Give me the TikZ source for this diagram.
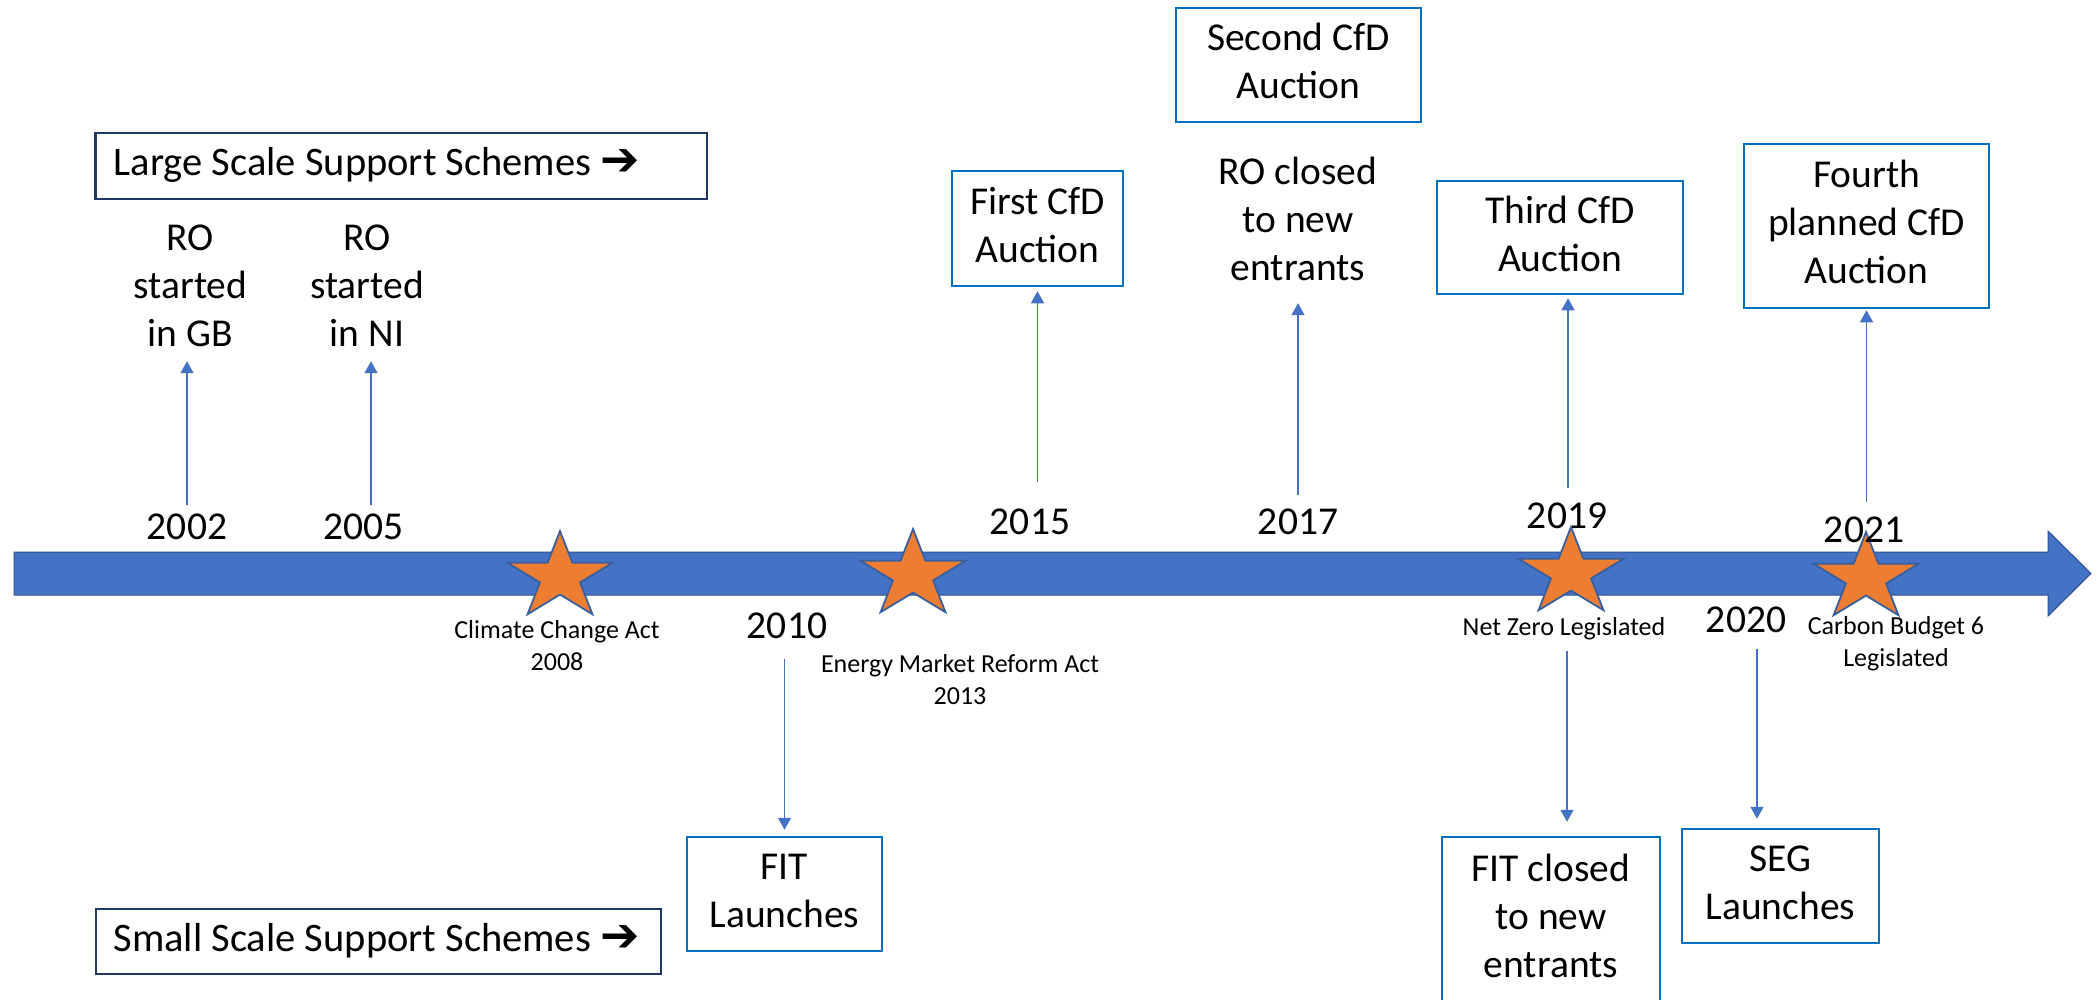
\documentclass[tikz,border=0pt]{standalone}
\usepackage{fontspec}
\setmainfont{Carlito}
\newfontfamily\arrowfont{DejaVu Sans}
\usetikzlibrary{arrows.meta}
\definecolor{mainblue}{HTML}{4472C4}
\definecolor{mainborder}{HTML}{2F528F}
\definecolor{starorange}{HTML}{ED7D31}
\definecolor{starborder}{HTML}{3A5F9E}
\definecolor{boxblue}{HTML}{0070C0}
\definecolor{navy}{HTML}{1F3864}
\definecolor{arrblue}{HTML}{4472C4}
\tikzset{
  big/.style={font=\fontsize{39.5}{48}\selectfont},
  headtxt/.style={font=\fontsize{40.5}{48}\selectfont},
  smalltxt/.style={font=\fontsize{26}{32}\selectfont},
  txt/.style={inner sep=0pt, align=center},
  cbox/.style={draw=boxblue, line width=2.5pt, align=center, inner sep=0pt, big},
  nbox/.style={draw=navy, line width=2.5pt, inner ysep=0pt, headtxt},
  conn/.style={draw=arrblue, line width=1.3pt, -{Triangle[width=13pt,length=12pt]}},
  starsty/.style={fill=starorange, draw=starborder, line width=1.8pt, line join=miter},
}
\newcommand{\ostar}[2]{%
  \begin{scope}[shift={(#1,#2)},xscale=1.2,yscale=-1]
    \draw[starsty] (90:46) -- (126:17.6) -- (162:46) -- (198:17.6) -- (234:46)
      -- (270:17.6) -- (306:46) -- (342:17.6) -- (18:46) -- (54:17.6) -- cycle;
  \end{scope}}
\newcommand{\bigarrow}{{\arrowfont\fontsize{47}{48}\selectfont ➔}}
\begin{document}
\begin{tikzpicture}[x=1pt,y=-1pt]
\useasboundingbox (0,0) rectangle (2098,999);
\fill[white] (0,0) rectangle (2098,999);

% main timeline arrow
\draw[fill=mainblue, draw=mainborder, line width=1pt, line join=miter]
  (14,552) -- (2048,552) -- (2048,531) -- (2091,573.5) -- (2048,616)
  -- (2048,595) -- (14,595) -- cycle;

% stars
\ostar{560}{577}
\ostar{913}{575}
\ostar{1571}{573}
\ostar{1866}{578}

% header boxes
\node[nbox, inner xsep=18.5pt, minimum height=66pt] (lss) at (401,166)
  {\makebox[574.5pt][l]{\strut Large Scale Support Schemes \bigarrow}};
\node[nbox, inner xsep=17.5pt, minimum height=65pt] (sss) at (378.5,941.5)
  {\makebox[530pt][l]{\strut Small Scale Support Schemes \bigarrow}};

% event boxes
\node[cbox, minimum width=245pt, minimum height=114pt] (sc2) at (1298.5,65) {\strut Second CfD\\\strut Auction};
\node[cbox, minimum width=171pt, minimum height=115pt] (fc1) at (1037.5,228.5) {\strut First CfD\\\strut Auction};
\node[cbox, minimum width=246pt, minimum height=113pt] (fc3) at (1560,237.5) {\strut Third CfD\\\strut Auction};
\node[cbox, minimum width=245pt, minimum height=164pt] (fc4) at (1866.5,226) {\strut Fourth\\\strut planned CfD\\\strut Auction};
\node[cbox, minimum width=195pt, minimum height=114pt] (fit1) at (784.5,894) {\strut FIT\\\strut Launches};
\node[cbox, minimum width=218pt, minimum height=166pt] (fit2) at (1551,920) {\strut FIT closed\\\strut to new\\\strut entrants};
\node[cbox, minimum width=197pt, minimum height=114pt] (seg) at (1780.5,886) {\strut SEG\\\strut Launches};

% free text events
\node[txt, big] (ro1) at (190.5,289) {\strut RO\\\strut started\\\strut in GB};
\node[txt, big] (ro2) at (367,289) {\strut RO\\\strut started\\\strut in NI};
\node[txt, big] (roc) at (1298,222.4) {\strut RO closed\\\strut to new\\\strut entrants};

% years
\node[txt, big] (y2002) at (187,529.4) {\strut 2002};
\node[txt, big] (y2005) at (363.5,529.4) {\strut 2005};
\node[txt, big] (y2010) at (787,628.4) {\strut 2010};
\node[txt, big] (y2015) at (1030,524.4) {\strut 2015};
\node[txt, big] (y2017) at (1298,524.4) {\strut 2017};
\node[txt, big] (y2019) at (1567,518.4) {\strut 2019};
\node[txt, big] (y2020) at (1746,622.4) {\strut 2020};
\node[txt, big] (y2021) at (1864,532.4) {\strut 2021};

% star labels
\node[txt, smalltxt] (cca) at (557,647.6) {\strut Climate Change Act\\\strut 2008};
\node[txt, smalltxt] (emr) at (960,682) {\strut Energy Market Reform Act\\\strut 2013};
\node[txt, smalltxt] (nz) at (1564,628.6) {\strut Net Zero Legislated};
\node[txt, smalltxt] (cb6) at (1896,644.1) {\strut Carbon Budget 6\\\strut Legislated};

% connectors up
\draw[conn] (y2002.north) -- (y2002.north |- ro1.south);
\draw[conn] ([xshift=7.5pt]y2005.north) -- ([xshift=7.5pt]y2005.north |- ro2.south);
\draw[conn, shorten <=18pt, shorten >=4pt] (fc1.south |- y2015.north) -- (fc1.south);
\draw[conn, shorten <=5pt, shorten >=8.6pt] (y2017.north) -- (y2017.north |- roc.south);
\draw[conn, shorten <=6pt, shorten >=3pt] ([xshift=1pt]y2019.north) -- ([xshift=1pt]y2019.north |- fc3.south);
\draw[conn, shorten <=6pt, shorten >=1pt] (fc4.south |- y2021.north) -- (fc4.south);

% connectors down
\draw[conn, shorten <=6pt, shorten >=6pt] (fit1.north |- y2010.south) -- (fit1.north);
\draw[conn, shorten <=6pt, shorten >=14pt] ([xshift=3pt]nz.south) -- ([xshift=3pt]nz.south |- fit2.north);
\draw[conn, shorten <=2pt, shorten >=9pt] ([xshift=11pt]y2020.south) -- ([xshift=11pt]y2020.south |- seg.north);
\end{tikzpicture}
\end{document}
